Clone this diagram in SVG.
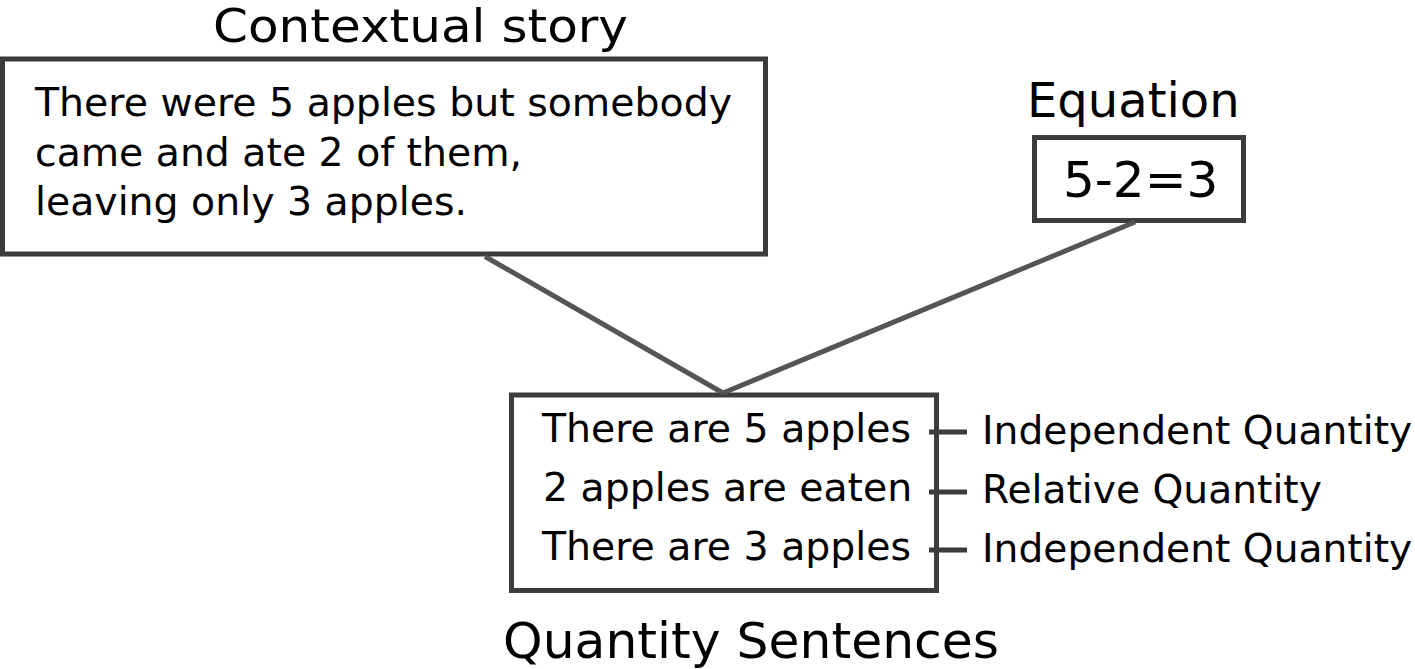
<svg xmlns="http://www.w3.org/2000/svg" width="1415" height="669" viewBox="0 0 1415 669">
<style>
.box{fill:#fff;stroke:#3c3c3c;stroke-width:5}
.conn{stroke:#555;stroke-width:5;fill:none}
.tick{stroke:#3c3c3c;stroke-width:5}
text{font-family:"DejaVu Sans","Verdana",sans-serif;fill:#000}
</style>
<rect width="1415" height="669" fill="#fff"/>
<g id="story">
<text x="213" y="42" font-size="46" textLength="415" lengthAdjust="spacingAndGlyphs">Contextual story</text>
<rect class="box" x="2.5" y="59" width="763" height="195"/>
<text x="35" y="116" font-size="39.5" textLength="697" lengthAdjust="spacingAndGlyphs">There were 5 apples but somebody</text>
<text x="35" y="166" font-size="39.5" textLength="487" lengthAdjust="spacingAndGlyphs">came and ate 2 of them,</text>
<text x="35" y="215" font-size="39.5" textLength="432" lengthAdjust="spacingAndGlyphs">leaving only 3 apples.</text>
</g>
<g id="equation">
<text x="1027" y="117" font-size="48">Equation</text>
<rect class="box" x="1034.5" y="137.5" width="209" height="83"/>
<text x="1063" y="197" font-size="50">5-2=3</text>
</g>
<g id="quantity">
<rect class="box" x="511.5" y="395" width="425" height="195.5"/>
<text x="542" y="442" font-size="39.4">There are 5 apples</text>
<text x="543" y="501" font-size="39.4">2 apples are eaten</text>
<text x="542" y="560" font-size="39.4">There are 3 apples</text>
<text x="503" y="658" font-size="50" textLength="496" lengthAdjust="spacingAndGlyphs">Quantity Sentences</text>
</g>
<g id="labels">
<text x="982" y="444" font-size="39.2">Independent Quantity</text>
<text x="982" y="503" font-size="39.2">Relative Quantity</text>
<text x="982" y="562" font-size="39.2">Independent Quantity</text>
</g>
<g id="connectors">
<line class="conn" x1="485" y1="256.5" x2="723" y2="393"/>
<line class="conn" x1="1135" y1="222" x2="723" y2="393"/>
<line class="tick" x1="929" y1="432" x2="967" y2="432"/>
<line class="tick" x1="929" y1="492" x2="967" y2="492"/>
<line class="tick" x1="929" y1="550" x2="967" y2="550"/>
</g>
</svg>
